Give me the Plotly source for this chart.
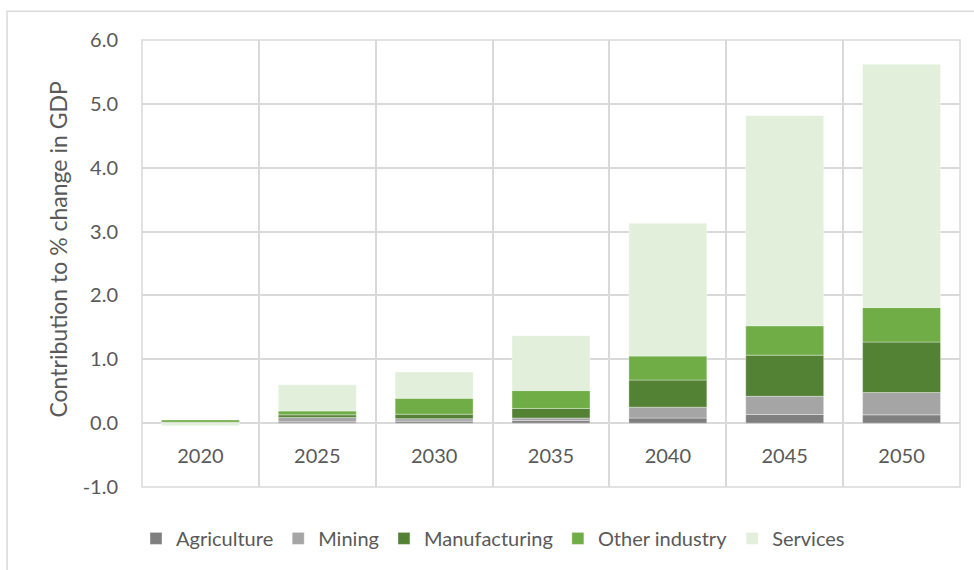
import plotly.graph_objects as go

# Contribution of each industry to the % change in GDP, by year
years = ["2020", "2025", "2030", "2035", "2040", "2045", "2050"]
agriculture = [0.005, 0.02, 0.03, 0.04, 0.08, 0.135, 0.13]
mining = [0.005, 0.07, 0.04, 0.04, 0.17, 0.285, 0.35]
manufacturing = [0.005, 0.04, 0.07, 0.15, 0.425, 0.645, 0.79]
other_industry = [0.035, 0.06, 0.25, 0.28, 0.375, 0.46, 0.54]
services = [-0.04, 0.41, 0.41, 0.86, 2.08, 3.29, 3.81]

y_ticks = [-1.0, 0.0, 1.0, 2.0, 3.0, 4.0, 5.0, 6.0]
y_tick_labels = [f"{v:.1f}" for v in y_ticks]
y_title = "Contribution to % change in GDP"

series = [
    ("Agriculture", agriculture, "#7F7F7F"),
    ("Mining", mining, "#A5A5A5"),
    ("Manufacturing", manufacturing, "#548235"),
    ("Other industry", other_industry, "#70AD47"),
    ("Services", services, "#E2EFDA"),
]

FONT = "Lato"
TEXT = "#595959"
GRID = "#D9D9D9"

fig = go.Figure()
for name, vals, color in series:
    fig.add_trace(go.Bar(
        x=years, y=vals, name=name,
        marker=dict(color=color, line=dict(color="rgba(255,255,255,0.35)", width=1)),
    ))

W, H = 974, 570
ml, mr, mt, mb = 142, 14, 40, 81
pw, ph = W - ml - mr, H - mt - mb

ymin, ymax = y_ticks[0], y_ticks[-1]
zero_pos = (0 - ymin) / (ymax - ymin)

fig.update_layout(
    width=W, height=H,
    margin=dict(l=ml, r=mr, t=mt, b=mb, pad=0),
    paper_bgcolor="white", plot_bgcolor="white",
    barmode="relative", bargap=0.333,
    font=dict(family=FONT, color=TEXT, size=19),
    showlegend=True,
    legend=dict(
        orientation="h", x=(493 - ml) / pw, xanchor="center", y=-0.115, yanchor="middle",
        font=dict(family=FONT, size=20, color=TEXT),
        itemwidth=30, traceorder="normal",
    ),
    xaxis=dict(
        type="category", tickson="boundaries",
        anchor="free", position=zero_pos,
        showgrid=True, gridcolor=GRID, gridwidth=1.5,
        showline=False, ticks="", ticklen=0, ticklabelstandoff=19,
        tickfont=dict(family=FONT, size=20, color=TEXT),
        range=[-0.5, len(years) - 0.5],
    ),
    yaxis=dict(
        range=[ymin, ymax], tickmode="array", tickvals=y_ticks, ticktext=y_tick_labels,
        showgrid=True, gridcolor=GRID, gridwidth=1.5,
        zeroline=True, zerolinecolor=GRID, zerolinewidth=1.5,
        showline=False, ticks="", ticklabelstandoff=23,
        tickfont=dict(family=FONT, size=20, color=TEXT),
    ),
    annotations=[
        dict(text=y_title, textangle=-90, showarrow=False,
             xref="paper", yref="paper",
             x=(58.5 - ml) / pw, y=(H - mb - 251) / ph,
             xanchor="center", yanchor="middle",
             font=dict(family=FONT, size=23, color=TEXT)),
    ],
    shapes=[
        # plot area box
        dict(type="rect", xref="paper", yref="paper", x0=0, x1=1, y0=0, y1=1,
             line=dict(color=GRID, width=1.5), layer="above"),
        # outer chart frame
        dict(type="rect", xref="paper", yref="paper",
             x0=(7 - ml) / pw, x1=(W + 10 - ml) / pw,
             y0=-(H + 10 - mt - ph) / ph, y1=(H - mb - 11) / ph,
             line=dict(color=GRID, width=1.5), layer="below"),
    ],
)

fig.write_html("out.html")
